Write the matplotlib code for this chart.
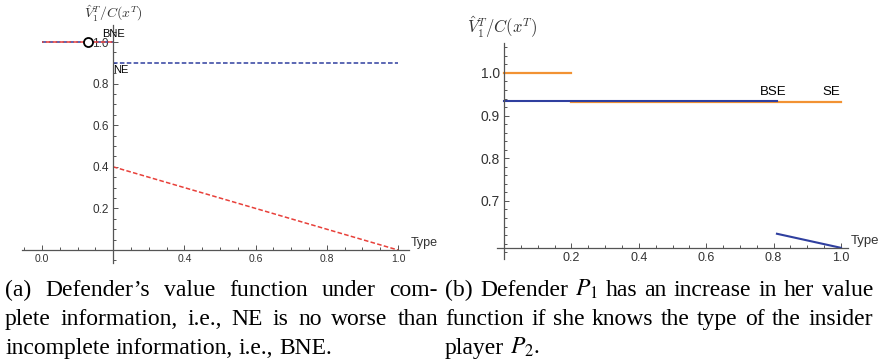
import matplotlib
matplotlib.use('Agg')
import matplotlib.pyplot as plt
from matplotlib.ticker import MultipleLocator, FixedLocator

# ---- data ----
# (a) complete vs incomplete information
bne_top_x = [0.0, 0.2]
bne_top_y = [1.0, 1.0]
bne_low_x = [0.2, 1.0]
bne_low_y = [0.4, 0.0]
ne_top_x = [0.0, 0.2]
ne_top_y = [1.0, 1.0]
ne_x = [0.2, 1.0]
ne_y = [0.9, 0.9]
open_pt = (0.128, 1.0)
a_xticks = [0.0, 0.4, 0.6, 0.8, 1.0]
a_yticks = [0.2, 0.4, 0.6, 0.8, 1.0]

# (b) Stackelberg vs Bayesian Stackelberg
se_top_x = [0.0, 0.2]
se_top_y = [1.0, 1.0]
se_x = [0.2, 1.0]
se_y = [0.933, 0.933]
bse_x = [0.0, 0.81]
bse_y = [0.935, 0.935]
bse_low_x = [0.81, 1.0]
bse_low_y = [0.623, 0.59]
b_xticks = [0.2, 0.4, 0.6, 0.8, 1.0]
b_yticks = [0.7, 0.8, 0.9, 1.0]

caption_a = ["(a) Defender\u2019s value function under com-",
             "plete information, i.e., NE is no worse than",
             "incomplete information, i.e., BNE."]
caption_b = ["(b) Defender $P_1$ has an increase in her value",
             "function if she knows the type of the insider",
             "player $P_2$."]

W, H = 886, 364
RED = '#e8403a'
BLUE = '#2f3f9f'
ORANGE = '#f29233'
AXC = '#555555'
SANS = 'Liberation Sans'
SERIF = 'Liberation Serif'


def px_axes(fig, left, top, right, bottom):
    return fig.add_axes([left / W, 1 - bottom / H, (right - left) / W, (bottom - top) / H])


def style_axes(ax, xcross, ycross, xfs, yfs):
    for s in ['top', 'right']:
        ax.spines[s].set_visible(False)
    ax.spines['left'].set_position(('data', xcross))
    ax.spines['bottom'].set_position(('data', ycross))
    for s in ['left', 'bottom']:
        ax.spines[s].set_color(AXC)
        ax.spines[s].set_linewidth(0.9)
    ax.tick_params(which='both', direction='in', color=AXC, width=0.7)
    ax.tick_params(which='major', length=3.5)
    ax.tick_params(which='minor', length=2)
    ax.tick_params(axis='x', labelsize=xfs, labelcolor='#333333', pad=3)
    ax.tick_params(axis='y', labelsize=yfs, labelcolor='#333333', pad=3)
    for lab in ax.get_xticklabels() + ax.get_yticklabels():
        lab.set_family(SANS)
    ax.patch.set_visible(False)


def justify(fig, renderer, line, x0, x1, ybase, fs, stretch=True):
    # place words one by one so the first lines fill the column width
    words = line.split(' ')
    texts = [fig.text(0, 0, w, fontsize=fs, family=SERIF, math_fontfamily='stix',
                      va='baseline', ha='left') for w in words]
    widths = [t.get_window_extent(renderer).width for t in texts]
    if stretch and len(words) > 1:
        gap = (x1 - x0 - sum(widths)) / (len(words) - 1)
    else:
        gap = fs * 100 / 72 * 0.25
    x = x0
    for t, w in zip(texts, widths):
        t.set_position((x / W, 1 - ybase / H))
        x += w + gap


def main():
    fig = plt.figure(figsize=(W / 100, H / 100), dpi=100)

    # ---- panel (a) ----
    ax = px_axes(fig, 22.4, 25.4, 408.7, 262.5)
    ax.set_xlim(-0.055, 1.03)
    ax.set_ylim(-0.06, 1.08)
    ax.plot(ne_top_x, ne_top_y, color=BLUE, lw=1.1, ls=(0, (3, 1.5)))
    ax.plot(bne_top_x, bne_top_y, color=RED, lw=1.1, ls=(2, (3, 1.5)))
    ax.plot(ne_x, ne_y, color=BLUE, lw=1.1, ls=(0, (3, 1.5)))
    ax.plot(bne_low_x, bne_low_y, color=RED, lw=1.1, ls=(0, (3, 1.5)))
    ax.plot(*open_pt, marker='o', ms=6.5, mfc='white', mec='black', mew=1.3, zorder=2)
    ax.xaxis.set_major_locator(FixedLocator(a_xticks))
    ax.xaxis.set_minor_locator(MultipleLocator(0.05))
    ax.yaxis.set_major_locator(FixedLocator(a_yticks))
    ax.yaxis.set_minor_locator(MultipleLocator(0.05))
    ax.set_yticklabels([f'{v:.1f}' for v in a_yticks])
    ax.set_xticklabels([f'{v:.1f}' for v in a_xticks])
    style_axes(ax, 0.2, 0.0, 7.5, 8.5)
    ax.text(0.2, 1.04, 'BNE', fontsize=8, family=SANS, ha='center', va='center')
    ax.text(0.2, 0.865, 'NE', fontsize=8, family=SANS, ha='left', va='center')
    ax.text(1.035, 0.005, 'Type', fontsize=9, family=SANS, ha='left', va='bottom',
            color='#333333')
    fig.text(113 / W, 1 - 13 / H, r'$\hat{V}_1^T/C(x^T)$', fontsize=10,
             math_fontfamily='cm', ha='center', va='center', color='#333333')

    # ---- panel (b) ----
    bx = px_axes(fig, 497.3, 43.1, 847.7, 258.5)
    bx.set_xlim(-0.02, 1.02)
    bx.set_ylim(0.565, 1.07)
    bx.plot(se_top_x, se_top_y, color=ORANGE, lw=1.6)
    bx.plot(se_x, se_y, color=ORANGE, lw=1.6)
    bx.plot(bse_x, bse_y, color=BLUE, lw=1.5)
    bx.plot(bse_low_x, bse_low_y, color=BLUE, lw=1.5)
    bx.xaxis.set_major_locator(FixedLocator(b_xticks))
    bx.xaxis.set_minor_locator(MultipleLocator(0.05))
    bx.yaxis.set_major_locator(FixedLocator(b_yticks))
    bx.yaxis.set_minor_locator(MultipleLocator(0.02))
    bx.set_xticklabels([f'{v:.1f}' for v in b_xticks])
    bx.set_yticklabels([f'{v:.1f}' for v in b_yticks])
    style_axes(bx, 0.0, 0.59, 9, 10)
    bx.text(0.80, 0.955, 'BSE', fontsize=9.5, family=SANS, ha='center', va='center')
    bx.text(0.97, 0.955, 'SE', fontsize=9.5, family=SANS, ha='center', va='center')
    bx.text(1.03, 0.592, 'Type', fontsize=9.5, family=SANS, ha='left', va='bottom',
            color='#333333')
    fig.text(502 / W, 1 - 27 / H, r'$\hat{V}_1^T/C(x^T)$', fontsize=12,
             math_fontfamily='cm', ha='center', va='center', color='#333333')

    # ---- captions ----
    renderer = fig.canvas.get_renderer()
    for i, line in enumerate(caption_a):
        justify(fig, renderer, line, 5, 438, 296 + 29 * i, 17, stretch=i < 2)
    for i, line in enumerate(caption_b):
        justify(fig, renderer, line, 445, 873, 296 + 29 * i, 17, stretch=i < 2)

    fig.savefig('out.png', dpi=100)
    plt.close(fig)


if __name__ == '__main__':
    main()
